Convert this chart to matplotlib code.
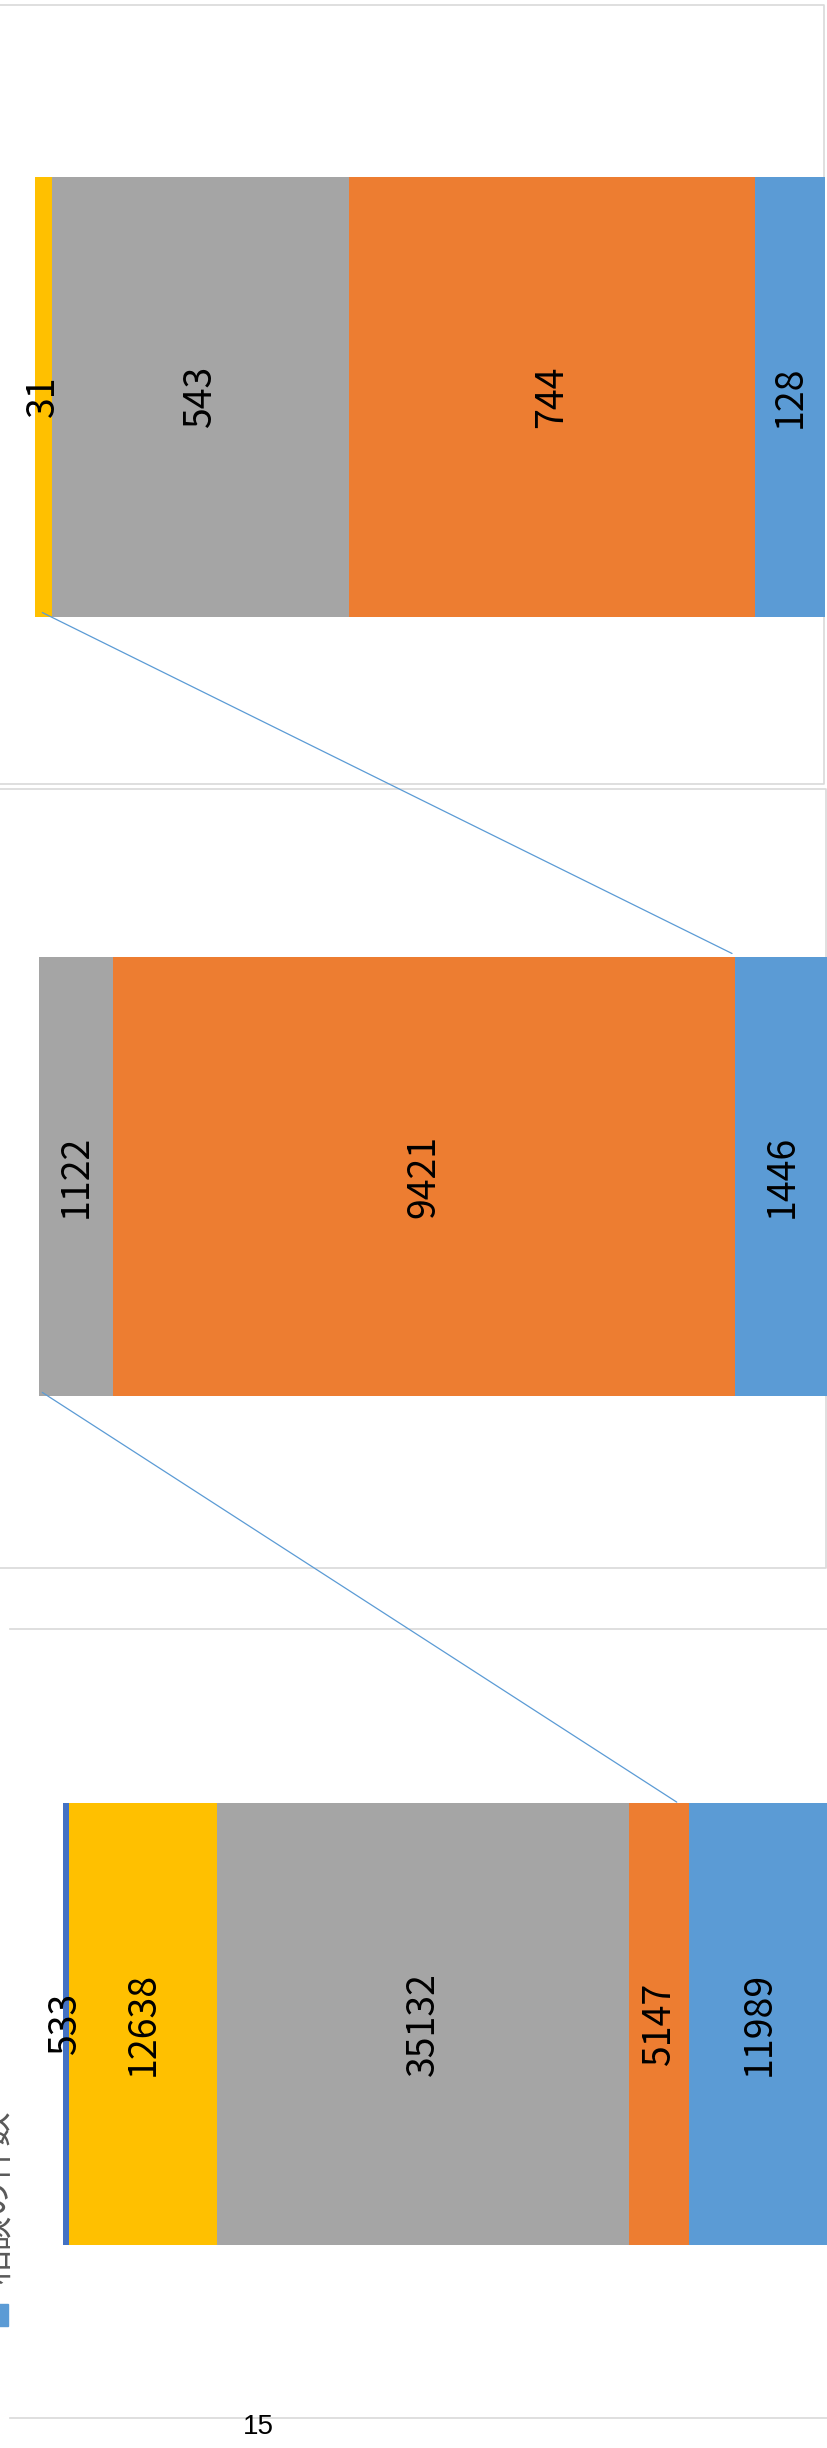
import matplotlib
matplotlib.use("Agg")
import matplotlib.pyplot as plt
from matplotlib.patches import ConnectionPatch, Rectangle

# values, left to right in each band
top_vals = [31, 543, 744, 128]
top_cols = ["#FFC000", "#A5A5A5", "#ED7D31", "#5B9BD5"]
mid_vals = [1122, 9421, 1446]
mid_cols = ["#A5A5A5", "#ED7D31", "#5B9BD5"]
low_vals = [533, 12638, 35132, 5147, 11989]
low_cols = ["#4472C4", "#FFC000", "#A5A5A5", "#ED7D31", "#5B9BD5"]
legend_text = "相談の件数"
page_no = "15"

W, H = 827, 2448
fig = plt.figure(figsize=(W / 100, H / 100), dpi=100)

# background axes in pixel coords (y down) for frames and page text
bg = fig.add_axes([0, 0, 1, 1])
bg.set_xlim(0, W)
bg.set_ylim(H, 0)
bg.axis("off")


def px_axes(left, top, width, height):
    ax = fig.add_axes([left / W, 1 - (top + height) / H, width / W, height / H])
    ax.axis("off")
    return ax


def stacked(ax, vals, cols):
    left = 0
    for v, c in zip(vals, cols):
        ax.barh(0.5, v, height=1, left=left, color=c, linewidth=0)
        ax.text(left + v / 2, 0.5, str(v), rotation=90, ha="center", va="center",
                fontsize=27, family=["Noto Sans CJK SC", "DejaVu Sans"], color="black",
                clip_on=False, zorder=5)
        left += v
    ax.set_xlim(0, sum(vals))
    ax.set_ylim(0, 1)


ax1 = px_axes(35, 176.5, 790, 440)
stacked(ax1, top_vals, top_cols)
ax2 = px_axes(39, 957, 791, 438.5)
stacked(ax2, mid_vals, mid_cols)
ax3 = px_axes(62.8, 1803, 767, 442)
stacked(ax3, low_vals, low_cols)

# frames / gridlines
gc = "#D9D9D9"
lw = 1.2
bg.plot([0, 823.5, 823.5, 0], [4.5, 4.5, 783.5, 783.5], color=gc, lw=lw)
bg.plot([0, 826, 826, 0], [788.5, 788.5, 1567.5, 1567.5], color=gc, lw=lw)
bg.plot([10, W], [1629, 1629], color=gc, lw=lw)
bg.plot([10, W], [2418, 2418], color=gc, lw=lw)

# cut-off legend entry on the left edge
bg.add_patch(Rectangle((-14, 2304), 22, 22, color="#5B9BD5", clip_on=False))
bg.text(-3, 2197, legend_text, rotation=90, ha="center", va="center", fontsize=25,
        color="#595959", family=["Noto Sans CJK JP", "DejaVu Sans"])

bg.text(258, 2427, page_no, ha="center", va="center", fontsize=20,
        family="Liberation Sans", color="black")

# connector lines between the bands
for axA, xa, ya, axB, xb, yb in [
    (ax3, 52380, 1.002, ax2, 50, 0.007),
    (ax2, 10504, 1.008, ax1, 13.4, 0.009),
]:
    con = ConnectionPatch(xyA=(xa, ya), coordsA=axA.transData,
                          xyB=(xb, yb), coordsB=axB.transData,
                          color="#5B9BD5", lw=0.9)
    fig.add_artist(con)

fig.savefig("out.png", dpi=100)
